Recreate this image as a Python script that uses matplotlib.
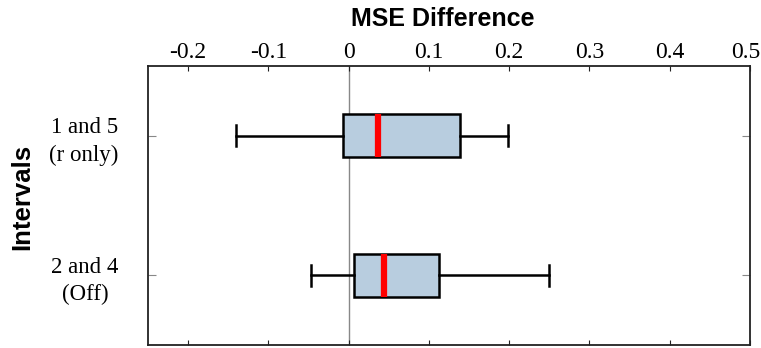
import matplotlib.pyplot as plt
from matplotlib.transforms import ScaledTranslation

# box statistics
labels = ["1 and 5\n(r only)", "2 and 4\n(Off)"]
whisker_low = [-0.140, -0.047]
q1 = [-0.007, 0.007]
medians = [0.036, 0.044]
q3 = [0.139, 0.113]
whisker_high = [0.198, 0.249]

ticks = [-0.2, -0.1, 0, 0.1, 0.2, 0.3, 0.4, 0.5]
tick_labels = ["-0.2", "-0.1", "0", "0.1", "0.2", "0.3", "0.4", "0.5"]

stats = []
for i in range(len(labels)):
    stats.append({"whislo": whisker_low[i], "q1": q1[i], "med": medians[i],
                  "q3": q3[i], "whishi": whisker_high[i], "fliers": [],
                  "label": labels[i]})

fig = plt.figure(figsize=(7.61, 3.48), dpi=100)
ax = fig.add_axes([0.1945, 0.0086, 0.791, 0.8017])

ax.axvline(0, color="#888888", linewidth=1.0, zorder=1)

ax.bxp(stats, positions=[1, 2], vert=False, widths=0.31, capwidths=0.15,
       patch_artist=True, showfliers=False,
       boxprops=dict(facecolor="#b8cddf", edgecolor="black", linewidth=1.8),
       whiskerprops=dict(color="black", linewidth=1.8),
       capprops=dict(color="black", linewidth=1.8),
       medianprops=dict(color="#ff0000", linewidth=4.5, solid_capstyle="butt"))

ax.set_xlim(-0.25, 0.5)
ax.set_ylim(2.5, 0.5)
ax.set_xticks(ticks)
ax.set_xticklabels(tick_labels, family="Liberation Serif", fontsize=17)
ax.set_yticks([1, 2])
ax.set_yticklabels(labels, family="Liberation Serif", fontsize=16.5,
                   multialignment="center", linespacing=1.4)
ax.tick_params(axis="x", direction="in", length=3.5, width=0.8, color="#222222",
               top=True, bottom=True, labeltop=True, labelbottom=False, pad=2)
ax.tick_params(axis="y", direction="in", length=5.5, width=0.8, color="#888888",
               left=True, right=True, pad=21)

# the last label sits at the figure edge, nudge it inward a little
last = ax.get_xticklabels()[-1]
last.set_transform(last.get_transform() + ScaledTranslation(-3 / 72, 0, fig.dpi_scale_trans))

for s in ax.spines.values():
    s.set_linewidth(1.3)
    s.set_color("#222222")

ax.xaxis.set_label_position("top")
ax.set_xlabel("MSE Difference", family="Liberation Sans", fontsize=18,
              fontweight="bold", va="center")
ax.xaxis.set_label_coords(0.489, 1.17)
ax.set_ylabel("Intervals", family="Liberation Sans", fontsize=18.5,
              fontweight="bold", va="center")
ax.yaxis.set_label_coords(-0.209, 0.529)

plt.savefig("out.png", dpi=100)
